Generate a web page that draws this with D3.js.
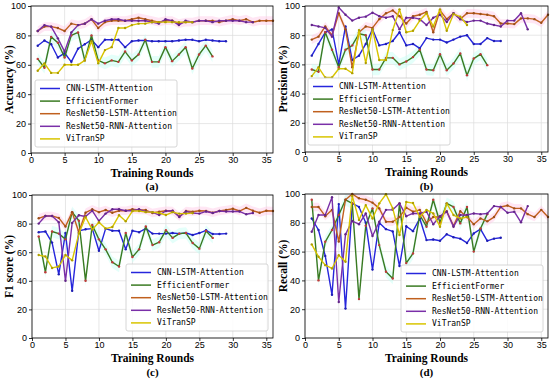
<!DOCTYPE html>
<html><head><meta charset="utf-8">
<script src="https://cdn.jsdelivr.net/npm/d3@7/dist/d3.min.js"></script>
<style>body{margin:0;background:#fff}svg{display:block}</style>
</head><body>
<svg id="chart" width="550" height="380"></svg>
<script>
const seriesNames = ["CNN-LSTM-Attention","EfficientFormer","ResNet50-LSTM-Attention","ResNet50-RNN-Attention","ViTranSP"];
const seriesColors = ["#2626dc","#3a7a22","#c0601e","#7a2fa8","#d8c400"];
const xTicks = [0,5,10,15,20,25,30,35];
const yTicks = [0,20,40,60,80,100];

// (a) Accuracy
const accCNN = [73,76.5,74,65,68,62,71,74,77,72,77,77,77,72,76,76.5,76.5,76,76,76,76,76.5,77,77,76,77,76.5,76,76];
const accEff = [64,58,79,75,65,80,82,63,80,63,61,63,62,69,63,67,77,62,62,72,62.5,67,72,57.5,67,73,65.7];
const accLSTM = [83,86,86,85,83,88,87,88,91,85,89,90,90,90,91,92,91,90,89,90,90,88,89,89,90,90,90,89,90,91,90,91,89,90,90,90];
const accRNN = [83,87,86,78,69,82,87,88,91,88,90,91,91,90,90,90,90,89,88,91,90,87,90,89,90,90,89,90,90,90,90,89,89];
const accViT = [56,61,54.5,54.5,60,60,60,63,76,61,70,72,85,85,87,88,88,89,89,89,89,89,89,89];

// (b) Precision
const preCNN = [66,74,82,84,60,86,63,66,74,84,73,74,76,82,73,74,71,78,77,77,75,77,79,80,74,74,78,76,76];
const preEff = [56.5,55,82,70,58,70,73,81,80,56.5,56.5,64.5,64.5,60,62,65,70,56.5,56,67,56,60.6,67.5,52.6,64,67,59.5];
const preLSTM = [77,79,86,80,95,84,58,82,86,85,91,95,97,93,88,93,94,96,82,97,91,95,91,95,95,94.5,94,93,88,88,87.6,91.5,91.5,91,88.5,94];
const preRNN = [87,86,85,79,99,94,90,92,92.7,95.4,93,92,93,84,92,92,91,87,92,94,89,95,91,89,90,90,88,87,86,90,90,95,84];
const preViT = [52,58,51,51,57,57,54,83.5,61,84,63,63,83.5,97.7,82,83,90,95,86,97.7,83,94.5,92.7,87];

// (c) F1 score
const f1CNN = [74,74.5,66.7,44.5,73.4,33,75,76,76.5,61,76.5,75,75,62,75,74,76.5,73,73,73,73.4,73,73.4,72,73.4,75.3,72.7,72.7,73];
const f1Eff = [71,46,74.5,73,69,88,82,40,79,69,62,53,50,73.4,56.6,62,78,65,67,75.3,70,73,73.4,66.4,62.5,74.8,70];
const f1LSTM = [83.7,85.3,85.3,84,78,88,74,87.6,90,88,89.5,87.6,89,89,90,89.5,89.5,87.4,88.3,89,88.8,85,88.8,88.3,89,88.8,87.6,88.8,89.5,90.4,88.8,91,89,87.6,89,88.8];
const f1RNN = [80,85.3,85.3,81,40,80.5,85.8,85,89,81.8,87,90,90,89,89,90,88.3,88,86,88.8,89,84.6,88.5,87.4,87,88.5,87.4,88.8,88.5,88.5,88.5,86.5,87.4];
const f1ViT = [58,57,49,50,58,54.3,73,84.6,75.8,81,76.5,77.6,85.8,81.6,88.8,88.8,88,88,87.4,86,88,87,87,87.4];

// (d) Recall
const recCNN = [83,75,57,30,93,20.4,93.5,91,80,47.5,80,75.6,74,50,77.6,74.2,83,68,68.4,67.5,72,70,69,66,72.6,75.6,67.5,69,69.6];
const recEff = [96,40,66.8,75,85.4,96,93.5,27,78,90,64.5,46,41.3,93.5,52,58.7,85.4,77.3,96,80,93.5,91,79.6,91,60,76,86];
const recLSTM = [91,91,84.6,89,67,96,100,97,96,94,90,80.7,80.7,84,90.5,87.7,89,80,84,84,88,78,88,84,79,83,81,84,91,92,90,90,86,84,89,84];
const recRNN = [73.8,85.4,85.4,97.7,25,72,81.2,79,86.5,70.8,80.7,89,89,93.5,84.6,86.5,86.5,87.7,79,84.6,87.7,77.3,85.4,85.4,86.5,86,86.5,91.6,91,87,87.7,80.3,91.6];
const recViT = [65,56.4,50.6,48.3,57.5,53,98.6,82,92.3,83,93.5,99.8,90,71.5,94.4,93.7,84,89,86.5,77.3,93.5,85.4,83,84];

const panels = [
  {tag:"(a)", ylabel:"Accuracy (%)", data:[accCNN,accEff,accLSTM,accRNN,accViT],
   box:{l:31,r:273,t:6,b:153}, leg:{x:35,y:80}, ylx:9, xlY:176.5, tagY:190},
  {tag:"(b)", ylabel:"Precision (%)", data:[preCNN,preEff,preLSTM,preRNN,preViT],
   box:{l:305,r:548,t:6,b:152}, leg:{x:308,y:78}, ylx:283, xlY:176, tagY:189.5},
  {tag:"(c)", ylabel:"F1 score (%)", data:[f1CNN,f1Eff,f1LSTM,f1RNN,f1ViT],
   box:{l:32,r:273,t:195,b:338}, leg:{x:126,y:264}, ylx:9, xlY:361.5, tagY:375.5},
  {tag:"(d)", ylabel:"Recall (%)", data:[recCNN,recEff,recLSTM,recRNN,recViT],
   box:{l:305,r:548,t:194,b:338}, leg:{x:401,y:265}, ylx:283, xlY:362, tagY:376}
];

const svg = d3.select("#chart");

panels.forEach(p => {
  const B = p.box;
  const x = d3.scaleLinear().domain([0,36]).range([B.l,B.r]);
  const y = d3.scaleLinear().domain([0,100]).range([B.b,B.t]);
  const g = svg.append("g");

  // grid
  g.append("g").selectAll("line").data(xTicks).join("line")
    .attr("x1",d=>x(d)).attr("x2",d=>x(d)).attr("y1",B.t).attr("y2",B.b)
    .attr("stroke","#dcdcdc").attr("stroke-width",0.7);
  g.append("g").selectAll("line").data(yTicks).join("line")
    .attr("x1",B.l).attr("x2",B.r).attr("y1",d=>y(d)).attr("y2",d=>y(d))
    .attr("stroke","#dcdcdc").attr("stroke-width",0.7);

  // faint bands
  const band = (arr, w, col) => {
    const pts = arr.map((v,i)=>[i+1,v]);
    g.append("path").datum(pts)
      .attr("d", d3.area().x(d=>x(d[0])).y0(d=>y(d[1]-w)).y1(d=>y(Math.min(100,d[1]+w))))
      .attr("fill", col).attr("opacity",0.45);
  };
  band(p.data[2], 3, "#ffc8e6");
  band(p.data[1], 4, "#c4fff4");

  // lines
  const line = d3.line().x(d=>x(d[0])).y(d=>y(d[1]));
  p.data.forEach((arr, si) => {
    const pts = arr.map((v,i)=>[i+1,v]);
    g.append("path").datum(pts).attr("d",line)
      .attr("fill","none").attr("stroke",seriesColors[si]).attr("stroke-width",1.4)
      .attr("stroke-linejoin","round");
    g.append("g").selectAll("circle").data(pts).join("circle")
      .attr("cx",d=>x(d[0])).attr("cy",d=>y(d[1])).attr("r",1.2)
      .attr("fill", si===1 ? "#c03a3a" : d3.color(seriesColors[si]).darker(0.6));
  });

  // axes
  const xa = g.append("g").attr("transform",`translate(0,${B.b})`)
    .call(d3.axisBottom(x).tickValues(xTicks).tickSize(3).tickPadding(1));
  const ya = g.append("g").attr("transform",`translate(${B.l},0)`)
    .call(d3.axisLeft(y).tickValues(yTicks).tickSize(3).tickPadding(2));
  [xa,ya].forEach(a => {
    a.select(".domain").remove();
    a.selectAll("text").attr("font-family","Liberation Sans, Arial, sans-serif").attr("font-size",9).attr("fill","#000");
    a.selectAll("line").attr("stroke","#000").attr("stroke-width",0.8);
  });
  g.append("rect").attr("x",B.l).attr("y",B.t).attr("width",B.r-B.l).attr("height",B.b-B.t)
    .attr("fill","none").attr("stroke","#000").attr("stroke-width",0.8);

  // labels
  const cx = (B.l+B.r)/2, cy = (B.t+B.b)/2;
  g.append("text").attr("x",cx).attr("y",p.xlY).attr("text-anchor","middle")
    .attr("font-family","Liberation Serif, Times New Roman, serif").attr("font-weight","bold")
    .attr("font-size",11.5).text("Training Rounds");
  g.append("text").attr("x",cx).attr("y",p.tagY).attr("text-anchor","middle")
    .attr("font-family","Liberation Serif, Times New Roman, serif").attr("font-weight","bold")
    .attr("font-size",11).text(p.tag);
  g.append("text").attr("transform",`translate(${p.ylx},${cy}) rotate(-90)`)
    .attr("text-anchor","middle").attr("dominant-baseline","central")
    .attr("font-family","Liberation Serif, Times New Roman, serif").attr("font-weight","bold")
    .attr("font-size",11.5).text(p.ylabel);

  // legend
  const L = g.append("g").attr("transform",`translate(${p.leg.x},${p.leg.y})`);
  L.append("rect").attr("width",142).attr("height",67).attr("rx",2)
    .attr("fill","#fff").attr("fill-opacity",0.85).attr("stroke","#cccccc").attr("stroke-width",0.8);
  seriesNames.forEach((nm,i) => {
    const yy = 8.5 + i*12.6;
    L.append("line").attr("x1",5).attr("x2",25).attr("y1",yy).attr("y2",yy)
      .attr("stroke",seriesColors[i]).attr("stroke-width",1.5);
    L.append("text").attr("x",31).attr("y",yy).attr("dominant-baseline","central")
      .attr("font-family","DejaVu Sans Mono, monospace").attr("font-size",8)
      .attr("fill","#000").text(nm);
  });
});
</script>
</body></html>
